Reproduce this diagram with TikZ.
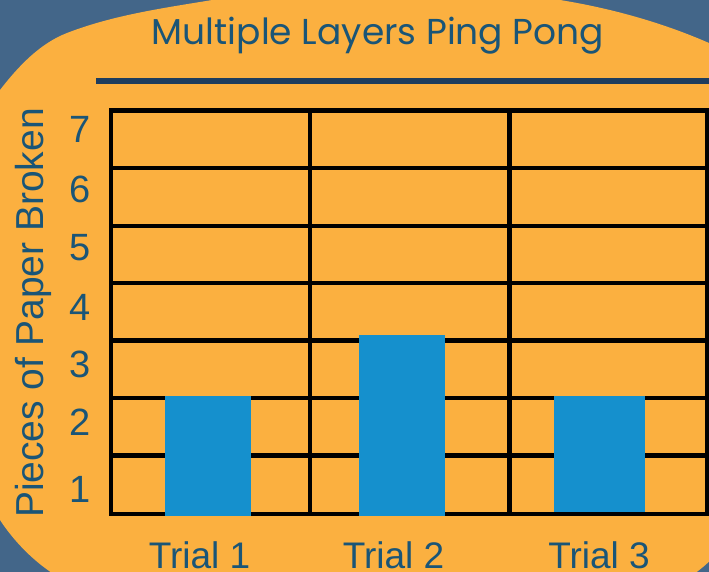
\documentclass[tikz,border=0pt]{standalone}
\usepackage{fontspec}
\setmainfont{Liberation Sans}
\newfontfamily\titlefont{Poppins}
\definecolor{bgblue}{HTML}{436689}
\definecolor{panel}{HTML}{FBB040}
\definecolor{inkblue}{HTML}{1A5577}
\definecolor{rulenavy}{HTML}{1E3D5E}
\definecolor{barblue}{HTML}{1590CD}
\tikzset{
  gridline/.style={draw=black, line width=4.5pt},
  bar/.style={fill=barblue, draw=none},
  ticklabel/.style={text=inkblue, font=\fontsize{38}{44}\selectfont, anchor=base, inner sep=0pt},
  triallabel/.style={text=inkblue, font=\fontsize{37}{44}\selectfont, anchor=base, inner sep=0pt},
}
\begin{document}
\begin{tikzpicture}[x=1pt,y=-1pt]
\useasboundingbox (0,0) rectangle (709,572);
\fill[bgblue] (0,0) rectangle (709,572);
% rounded orange panel, partly running off the page
\begin{scope}
  \clip (0,0) rectangle (709,572);
  \fill[panel] (-10,305)
    .. controls (-10,233.3) and (-43.7,146.6) .. (0,90)
    .. controls (17.9,66.8) and (39.7,43.5) .. (67,33)
    .. controls (109.3,16.6) and (155,9.3) .. (200,2)
    .. controls (259.8,-7.7) and (319.6,-20) .. (380,-20)
    .. controls (440.4,-20) and (500.4,-9.7) .. (560,0)
    .. controls (611,8.3) and (661.6,22.3) .. (709,43)
    .. controls (789,77.9) and (745,214.8) .. (745,302)
    .. controls (745,391.4) and (771.8,509.8) .. (703,567)
    .. controls (617.7,637.9) and (485.8,620) .. (375,620)
    .. controls (263.7,620) and (134,634.8) .. (45,568)
    .. controls (27.5,554.9) and (12,538.2) .. (0,520)
    .. controls (-39.4,460.5) and (-10,376.7) .. cycle;
\end{scope}
% title and rule
\node[text=inkblue, font=\titlefont\fontsize{36}{42}\selectfont, anchor=base, inner sep=0pt]
  (title) at (378,45) {Multiple Layers Ping Pong};
\draw[rulenavy, line width=6pt] (96,81.3) -- (709,81.3);
% grid
\draw[gridline] (111,110.5) rectangle (707,514);
\foreach \gx in {310,509.5} \draw[gridline] (\gx,110.5) -- (\gx,514);
\foreach \gy in {168,226,283,340.5,398,455.5} \draw[gridline] (111,\gy) -- (707,\gy);
% bars
\fill[bar] (165,396) rectangle (251,516);
\fill[bar] (359,335) rectangle (445,516);
\fill[bar] (554,396) rectangle (645,511.7);
% y axis
\foreach \v/\by in {7/143,6/202,5/260,4/320,3/377,2/435,1/502}
  \node[ticklabel] (tick\v) at (80,\by) {\v};
\node[text=inkblue, font=\fontsize{39}{44}\selectfont, rotate=90, anchor=base, inner sep=0pt]
  (ylabel) at (43,313) {Pieces of Paper Broken};
% x axis
\node[triallabel] (trialA) at (199.5,568.5) {Trial 1};
\node[triallabel] (trialB) at (393.5,568.5) {Trial 2};
\node[triallabel] (trialC) at (599,568.5) {Trial 3};
\end{tikzpicture}
\end{document}
